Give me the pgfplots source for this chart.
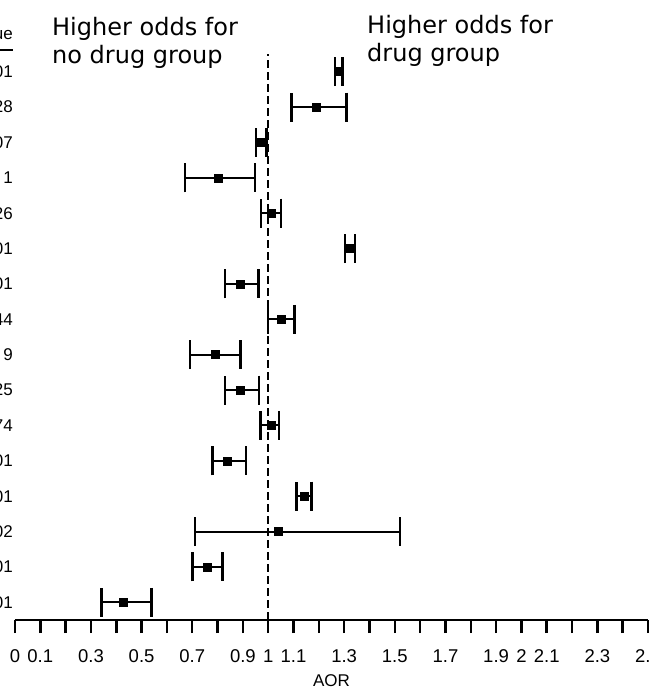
\documentclass[border=0pt]{standalone}
\usepackage{pgfplots}
\usepackage{pgfplotstable}
\pgfplotsset{compat=1.18}
\usepackage{fontspec}
\setmainfont{Liberation Sans}
\newfontfamily\dejavu{DejaVu Sans}

\pgfplotstableread{
y x lo hi
16 1.279 1.263 1.294
15 1.191 1.092 1.310
14 0.974 0.951 0.994
13 0.803 0.671 0.948
12 1.011 0.971 1.050
11 1.323 1.303 1.342
10 0.891 0.829 0.961
9 1.050 1.000 1.103
8 0.790 0.691 0.891
7 0.891 0.829 0.963
6 1.011 0.970 1.042
5 0.840 0.780 0.912
4 1.141 1.112 1.171
3 1.040 0.711 1.520
2 0.761 0.701 0.820
1 0.428 0.342 0.540
}\aor

\begin{document}
\begin{tikzpicture}
\path[use as bounding box] (0,0) rectangle (651bp,687bp);
\begin{axis}[
  at={(15bp,67bp)}, anchor=south west,
  scale only axis, width=633bp, height=566bp,
  xmin=0, xmax=2.5, ymin=0.5, ymax=16.5,
  axis x line=bottom, axis y line=none,
  x axis line style={-, line width=2.5bp},
  xtick={0,0.1,0.2,0.3,0.4,0.5,0.6,0.7,0.8,0.9,1,1.1,1.2,1.3,1.4,1.5,1.6,1.7,1.8,1.9,2,2.1,2.2,2.3,2.4,2.5},
  xticklabels={0,0.1,{},0.3,{},0.5,{},0.7,{},0.9,1,1.1,{},1.3,{},1.5,{},1.7,{},1.9,2,2.1,{},2.3,{},2.5},
  tick align=outside, major tick length=13bp,
  xtick style={line width=2.5bp, black},
  ytick=\empty,
  /pgf/number format/assume math mode=true,
  xticklabel style={font=\fontsize{18.5bp}{20bp}\selectfont, yshift=-13bp},
  xlabel={AOR},
  xlabel style={font=\fontsize{17bp}{19bp}\selectfont, at={(axis description cs:0.5,0)}, anchor=base, yshift=-66bp},
  clip=false,
]
\addplot[black, line width=1.6bp, dash pattern=on 8bp off 4bp] coordinates {(1,0.5) (1,16.5)};
\addplot[black, only marks, mark=square*, mark size=4bp,
  error bars/.cd, x dir=both, x explicit, error mark=|,
  error bar style={line width=2bp, black},
  error mark options={line width=2.5bp, mark size=14.5bp, black}]
  table[x=x, y=y, x error plus expr=\thisrow{hi}-\thisrow{x}, x error minus expr=\thisrow{x}-\thisrow{lo}] {\aor};
\foreach \r/\t in {16/01,15/28,14/07,13/1,12/26,11/01,10/01,9/44,8/9,7/25,6/74,5/01,4/01,3/02,2/01,1/01}{
  \edef\tmp{\noexpand\node[anchor=east, inner sep=0pt, font=\noexpand\fontsize{17bp}{19bp}\noexpand\selectfont] at (axis cs:0,\r) [xshift=-2bp] {\t};}
  \tmp
}
\end{axis}
\node[anchor=base east, inner sep=0pt, font=\fontsize{17bp}{19bp}\selectfont] at (13bp,647bp) {ue};
\draw[line width=1.5bp] (0,637bp) -- (13bp,637bp);
\node[anchor=base west, inner sep=0pt, font=\dejavu\fontsize{24bp}{28bp}\selectfont] at (52bp,651bp) {Higher odds for};
\node[anchor=base west, inner sep=0pt, font=\dejavu\fontsize{24bp}{28bp}\selectfont] at (52bp,623bp) {no drug group};
\node[anchor=base west, inner sep=0pt, font=\dejavu\fontsize{24bp}{28bp}\selectfont] at (367bp,653bp) {Higher odds for};
\node[anchor=base west, inner sep=0pt, font=\dejavu\fontsize{24bp}{28bp}\selectfont] at (367bp,625bp) {drug group};
\end{tikzpicture}
\end{document}
